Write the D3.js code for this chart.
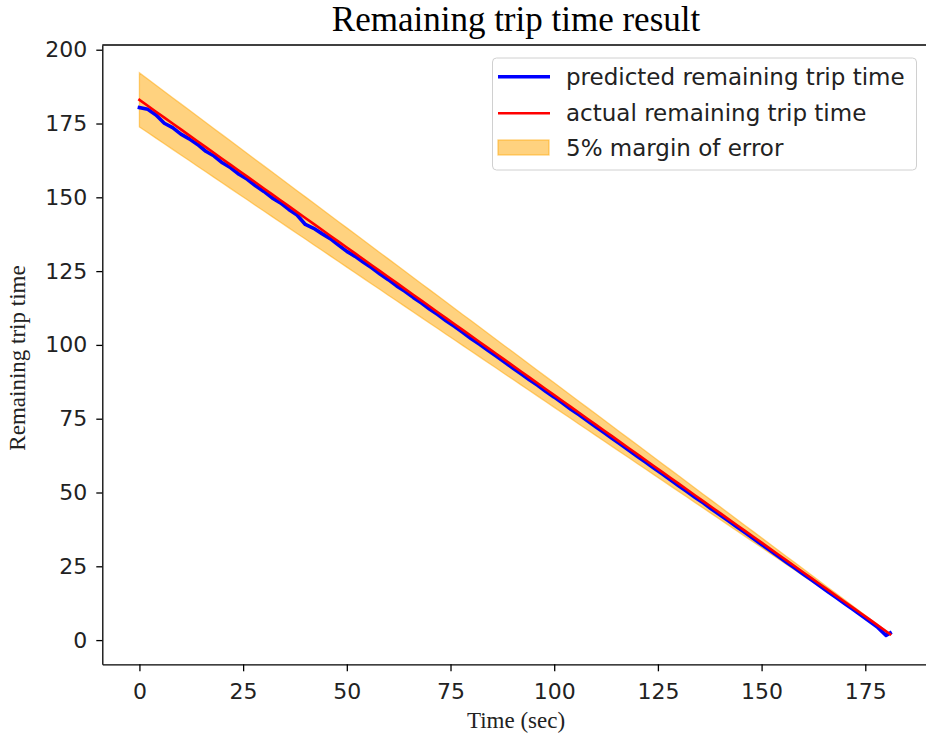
<!DOCTYPE html>
<html>
<head>
<meta charset="utf-8">
<script src="https://cdn.jsdelivr.net/npm/d3@7"></script>
<style>
  html, body { margin: 0; padding: 0; background: #fff; }
  svg { display: block; }
</style>
</head>
<body>
<div id="chart"></div>
<script>
// ---- data ----
const timeSec = [0,2,4,6,8,10,12,14,16,18,20,22,24,26,28,30,32,34,36,38,40,42,44,46,48,50,52,54,56,58,60,62,64,66,68,70,72,74,76,78,80,82,84,86,88,90,92,94,96,98,100,102,104,106,108,110,112,114,116,118,120,122,124,126,128,130,132,134,136,138,140,142,144,146,148,150,152,154,156,158,160,162,164,166,168,170,172,174,176,178,180,181];
const actualRemaining = [183,181,179,177,175,173,171,169,167,165,163,161,159,157,155,153,151,149,147,145,143,141,139,137,135,133,131,129,127,125,123,121,119,117,115,113,111,109,107,105,103,101,99,97,95,93,91,89,87,85,83,81,79,77,75,73,71,69,67,65,63,61,59,57,55,53,51,49,47,45,43,41,39,37,35,33,31,29,27,25,23,21,19,17,15,13,11,9,7,5,3,2];
const predictedRemaining = [180.4,179.8,177.9,175.1,173.6,171.4,169.8,167.9,165.6,164.0,161.7,160.0,157.8,156.1,153.9,152.0,149.8,148.1,145.9,144.0,140.8,139.5,137.7,136.0,133.8,131.7,130.0,128.0,126.1,124.0,122.1,120.0,118.2,116.1,114.2,112.1,110.2,108.1,106.2,104.2,102.1,100.2,98.2,96.2,94.2,92.2,90.2,88.2,86.3,84.2,82.3,80.3,78.2,76.3,74.3,72.3,70.3,68.3,66.3,64.3,62.3,60.3,58.3,56.3,54.3,52.3,50.3,48.3,46.4,44.3,42.4,40.4,38.4,36.4,34.4,32.4,30.4,28.4,26.4,24.4,22.4,20.4,18.4,16.4,14.4,12.4,10.4,8.4,6.4,4.3,1.6,2.4];
const marginLow = [173.85,171.95,170.05,168.15,166.25,164.35,162.45,160.55,158.65,156.75,154.85,152.95,151.05,149.15,147.25,145.35,143.45,141.55,139.65,137.75,135.85,133.95,132.05,130.15,128.25,126.35,124.45,122.55,120.65,118.75,116.85,114.95,113.05,111.15,109.25,107.35,105.45,103.55,101.65,99.75,97.85,95.95,94.05,92.15,90.25,88.35,86.45,84.55,82.65,80.75,78.85,76.95,75.05,73.15,71.25,69.35,67.45,65.55,63.65,61.75,59.85,57.95,56.05,54.15,52.25,50.35,48.45,46.55,44.65,42.75,40.85,38.95,37.05,35.15,33.25,31.35,29.45,27.55,25.65,23.75,21.85,19.95,18.05,16.15,14.25,12.35,10.45,8.55,6.65,4.75,2.85,1.9];
const marginHigh = [192.15,190.05,187.95,185.85,183.75,181.65,179.55,177.45,175.35,173.25,171.15,169.05,166.95,164.85,162.75,160.65,158.55,156.45,154.35,152.25,150.15,148.05,145.95,143.85,141.75,139.65,137.55,135.45,133.35,131.25,129.15,127.05,124.95,122.85,120.75,118.65,116.55,114.45,112.35,110.25,108.15,106.05,103.95,101.85,99.75,97.65,95.55,93.45,91.35,89.25,87.15,85.05,82.95,80.85,78.75,76.65,74.55,72.45,70.35,68.25,66.15,64.05,61.95,59.85,57.75,55.65,53.55,51.45,49.35,47.25,45.15,43.05,40.95,38.85,36.75,34.65,32.55,30.45,28.35,26.25,24.15,22.05,19.95,17.85,15.75,13.65,11.55,9.45,7.35,5.25,3.15,2.1];
const xTicks = [0,25,50,75,100,125,150,175];
const yTicks = [0,25,50,75,100,125,150,175,200];
const legendLabels = ["predicted remaining trip time","actual remaining trip time","5% margin of error"];
const titleText = "Remaining trip time result";
const xLabel = "Time (sec)";
const yLabel = "Remaining trip time";

// ---- layout ----
const W = 926, H = 739;
const svg = d3.select("#chart").append("svg").attr("width", W).attr("height", H);

const x = d3.scaleLinear().domain([-8.95, 190.6]).range([102.3, 930]);
const y = d3.scaleLinear().domain([-8.2, 201.6]).range([664.3, 45]);

const rows = timeSec.map((t, i) => ({t, a: actualRemaining[i], p: predictedRemaining[i], lo: marginLow[i], hi: marginHigh[i]}));

// band
svg.append("path")
  .datum(rows)
  .attr("d", d3.area().x(d => x(d.t)).y0(d => y(d.lo)).y1(d => y(d.hi)))
  .attr("fill", "orange").attr("fill-opacity", 0.5)
  .attr("stroke", "orange").attr("stroke-opacity", 0.5).attr("stroke-width", 1.3);

// predicted
svg.append("path")
  .datum(rows)
  .attr("d", d3.line().x(d => x(d.t)).y(d => y(d.p)))
  .attr("fill", "none").attr("stroke", "#0000ff").attr("stroke-width", 3.6)
  .attr("stroke-linejoin", "round").attr("stroke-linecap", "square");

// actual
svg.append("path")
  .datum(rows)
  .attr("d", d3.line().x(d => x(d.t)).y(d => y(d.a)))
  .attr("fill", "none").attr("stroke", "#ff0000").attr("stroke-width", 2.6)
  .attr("stroke-linecap", "square");

// axes
const tickFont = "'DejaVu Sans', sans-serif";
const gx = svg.append("g").attr("transform", `translate(0,${y.range()[0]})`)
  .call(d3.axisBottom(x).tickValues(xTicks).tickFormat(d3.format("d")).tickSize(7).tickSizeOuter(0).tickPadding(12));
const gy = svg.append("g").attr("transform", `translate(${x.range()[0]},0)`)
  .call(d3.axisLeft(y).tickValues(yTicks).tickFormat(d3.format("d")).tickSize(6).tickSizeOuter(0).tickPadding(9));
[gx, gy].forEach(g => {
  g.selectAll("path.domain").attr("stroke", "#000").attr("stroke-width", 1.3);
  g.selectAll(".tick line").attr("stroke", "#000").attr("stroke-width", 1.3);
  g.selectAll(".tick text").attr("fill", "#222").style("font-family", tickFont).style("font-size", "22px");
});
// top spine
svg.append("line").attr("x1", x.range()[0]).attr("x2", x.range()[1])
  .attr("y1", y.range()[1]).attr("y2", y.range()[1])
  .attr("stroke", "#000").attr("stroke-width", 1.3);

// title and axis labels
const serif = "'Liberation Serif', 'Times New Roman', serif";
svg.append("text").attr("x", 516).attr("y", 31).attr("text-anchor", "middle")
  .style("font-family", serif).style("font-size", "35px").attr("fill", "#000").text(titleText);
svg.append("text").attr("x", 516).attr("y", 728).attr("text-anchor", "middle")
  .style("font-family", serif).style("font-size", "23px").attr("fill", "#222").text(xLabel);
svg.append("text").attr("transform", "translate(25,358) rotate(-90)").attr("text-anchor", "middle")
  .style("font-family", serif).style("font-size", "23px").attr("fill", "#222").text(yLabel);

// legend
const lg = svg.append("g");
lg.append("rect").attr("x", 492.5).attr("y", 58).attr("width", 424).attr("height", 112).attr("rx", 4)
  .attr("fill", "#fff").attr("fill-opacity", 0.8).attr("stroke", "#d0d0d0").attr("stroke-width", 1);
const rowY = [76.7, 113.3, 147.5];
lg.append("line").attr("x1", 498).attr("x2", 550).attr("y1", rowY[0]).attr("y2", rowY[0])
  .attr("stroke", "#0000ff").attr("stroke-width", 3.6);
lg.append("line").attr("x1", 498).attr("x2", 550).attr("y1", rowY[1]).attr("y2", rowY[1])
  .attr("stroke", "#ff0000").attr("stroke-width", 2.6);
lg.append("rect").attr("x", 498).attr("y", rowY[2] - 7.5).attr("width", 51).attr("height", 15)
  .attr("fill", "orange").attr("fill-opacity", 0.5).attr("stroke", "orange").attr("stroke-opacity", 0.5).attr("stroke-width", 1.3);
legendLabels.forEach((l, i) => {
  lg.append("text").attr("x", 566).attr("y", rowY[i]).attr("dy", "0.35em")
    .style("font-family", tickFont).style("font-size", "23px").attr("fill", "#222").text(l);
});
</script>
</body>
</html>
